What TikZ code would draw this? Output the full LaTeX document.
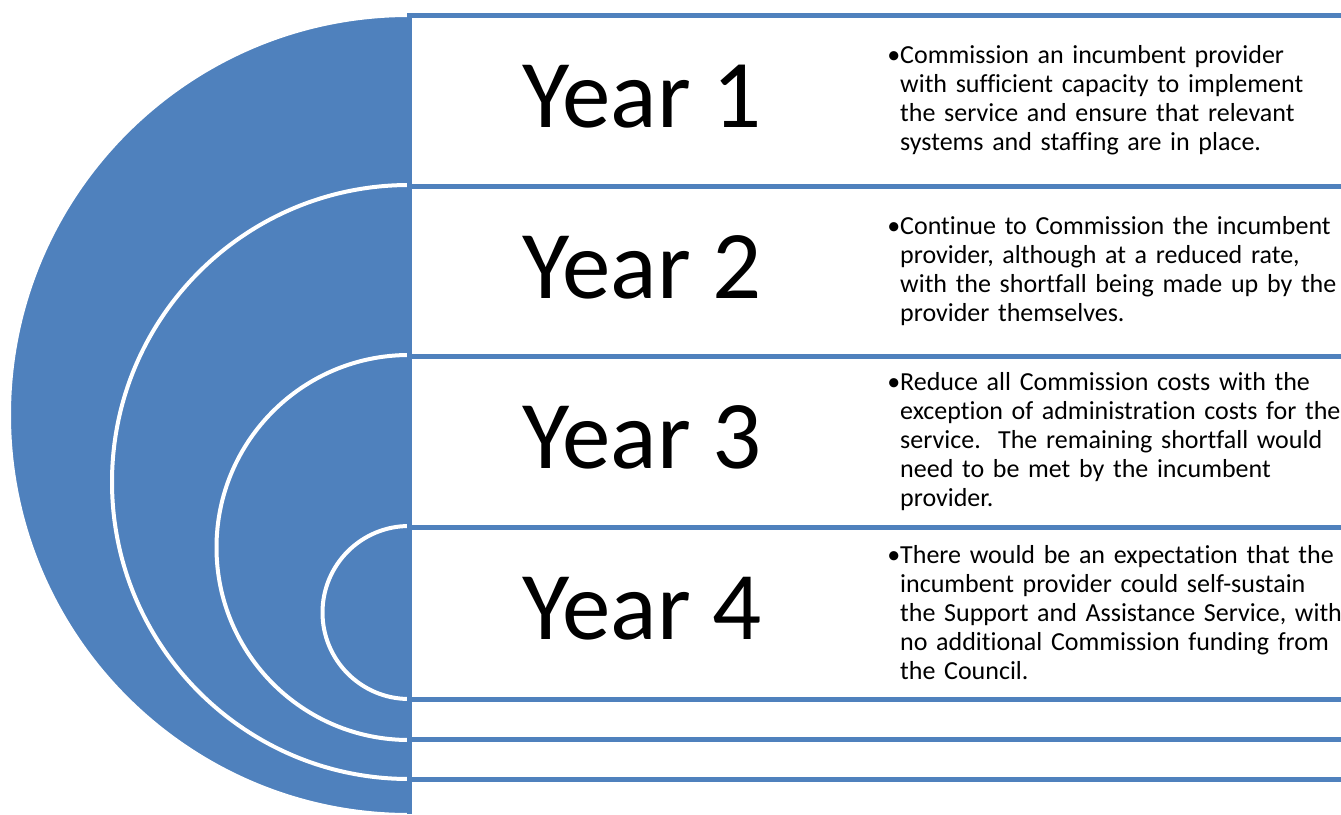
\documentclass[tikz,border=0pt]{standalone}
\usepackage{fontspec}
\setmainfont{Carlito}[Ligatures=CommonOff]
\usetikzlibrary{positioning}

\definecolor{ringblue}{RGB}{79,129,189}

\tikzset{
  ring/.style={fill=ringblue, draw=white, line width=4pt},
  rowline/.style={draw=ringblue, line width=5pt},
  yearlabel/.style={inner sep=0pt, font=\fontsize{97}{110}\selectfont},
  notes/.style={anchor=west, text width=480pt, align=left, inner sep=0pt,
    font=\fontsize{26}{29}\selectfont},
}
\newcommand{\bul}{\llap{\textbullet}}

\begin{document}
\begin{tikzpicture}[x=1pt, y=-1pt]
  \useasboundingbox (0,0) rectangle (1341,814);

  % nested half discs, largest first
  \foreach \cy/\r in {415/400, 482/297, 547.5/192.5, 612.5/86.5} {
    \path[ring] (409,\cy-\r) arc[start angle=270, end angle=90, radius=\r] -- cycle;
  }

  % row boundaries
  \foreach \y in {15,186,356,527,699,739,779} {
    \draw[rowline] (407,\y) -- (1341,\y);
  }
  \draw[rowline] (409,13) -- (409,814);

  % year labels
  \foreach \n/\cy in {1/97, 2/267, 3/437.5, 4/609} {
    \node[yearlabel] (year\n) at (642,\cy) {Year \n};
  }

  % notes, one per year (bullet hangs to the left)
  \node[notes] (note1) at (900,100.5) {\bul Commission an incumbent provider\\
    with sufficient capacity to implement\\
    the service and ensure that relevant\\
    systems and staffing are in place.};
  \node[notes] (note2) at (900,271) {\bul Continue to Commission the incumbent\\
    provider, although at a reduced rate,\\
    with the shortfall being made up by the\\
    provider themselves.};
  \node[notes] (note3) at (900,441.5) {\bul Reduce all Commission costs with the\\
    exception of administration costs for the\\
    service.\ \ The remaining shortfall would\\
    need to be met by the incumbent\\
    provider.};
  \node[notes] (note4) at (900,613) {\bul There would be an expectation that the\\
    incumbent provider could self-sustain\\
    the Support and Assistance Service, with\\
    no additional Commission funding from\\
    the Council.};
\end{tikzpicture}
\end{document}
